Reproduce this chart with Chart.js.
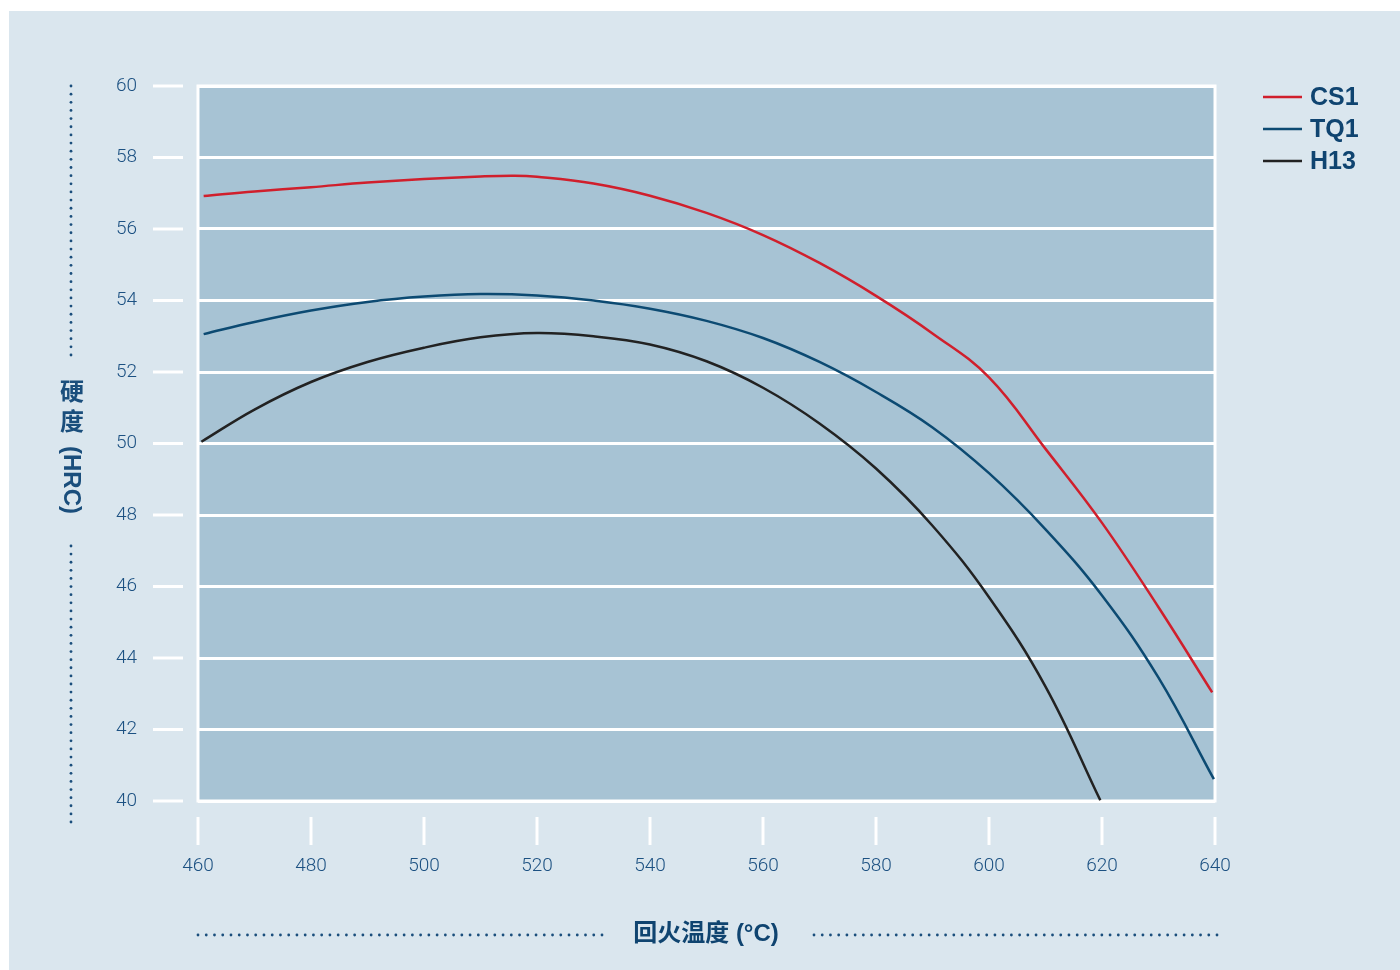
<!DOCTYPE html>
<html>
<head>
<meta charset="utf-8">
<script src="https://cdn.jsdelivr.net/npm/chart.js@4.4.1/dist/chart.umd.min.js"></script>
<style>
  body { margin: 0; background: #ffffff; }
  canvas { display: block; }
</style>
</head>
<body>
<canvas id="chart" width="1400" height="970"></canvas>
<script>
// temperatures (°C) and hardness (HRC)
var cs1Temp = [461, 470, 480, 490, 500, 510, 516, 520, 530, 540, 550, 560, 570, 580, 590, 600, 610, 620, 630, 639.5];
var cs1Hrc  = [56.92, 57.05, 57.17, 57.3, 57.4, 57.47, 57.49, 57.46, 57.27, 56.93, 56.45, 55.83, 55.05, 54.13, 53.08, 51.85, 49.85, 47.78, 45.42, 43.04];

var tq1Temp = [461, 470, 480, 490, 500, 510, 520, 530, 540, 550, 560, 570, 580, 590, 600, 610, 620, 630, 639.8];
var tq1Hrc  = [53.06, 53.4, 53.72, 53.96, 54.11, 54.18, 54.14, 54.0, 53.77, 53.43, 52.95, 52.28, 51.44, 50.45, 49.17, 47.6, 45.75, 43.45, 40.61];

var h13Temp = [460.6, 470, 480, 490, 500, 510, 520, 530, 540, 550, 560, 570, 580, 590, 600, 610, 619.7];
var h13Hrc  = [50.05, 50.95, 51.72, 52.28, 52.68, 52.97, 53.09, 53.0, 52.77, 52.3, 51.56, 50.56, 49.3, 47.7, 45.7, 43.2, 40.02];

var seriesNames  = ["CS1", "TQ1", "H13"];
var seriesColors = ["#d01f2c", "#0c4a72", "#222222"];

var xMin = 460, xMax = 640, xStep = 20;
var yMin = 40, yMax = 60, yStep = 2;

var xTitle = "回火温度 (°C)";
var yTitleChars = ["硬", "度"];
var yTitleUnit = "(HRC)";

var textColor = "#1c5182";
var outerBg = "#dae6ee";
var plotBg = "#a7c3d4";

function punkti(t, h)
{
    var out = [];
    for (let i = 0; i < t.length; i++) out.push({ x: t[i], y: h[i] });
    return out;
}

function pisteviiva(ctx, x1, y1, x2, y2)
{
    // dotted guide lines next to axis titles
    var len = Math.hypot(x2 - x1, y2 - y1);
    var n = Math.round(len / 8.2);
    ctx.fillStyle = "#1a4e7c";
    for (let i = 0; i <= n; i++) {
        var px = x1 + (x2 - x1) * i / n;
        var py = y1 + (y2 - y1) * i / n;
        ctx.beginPath();
        ctx.arc(px, py, 1.4, 0, Math.PI * 2);
        ctx.fill();
    }
}

var taustat = {
    id: "taustat",
    beforeDraw: function (chart) {
        var ctx = chart.ctx, a = chart.chartArea;
        ctx.save();
        ctx.fillStyle = "#ffffff";
        ctx.fillRect(0, 0, chart.width, chart.height);
        ctx.fillStyle = outerBg;
        ctx.fillRect(9, 11, chart.width - 9, chart.height - 11);
        ctx.fillStyle = plotBg;
        ctx.fillRect(a.left, a.top, a.right - a.left, a.bottom - a.top);
        ctx.restore();
    },
    beforeDatasetsDraw: function (chart) {
        var ctx = chart.ctx, a = chart.chartArea;
        var xs = chart.scales.x, ys = chart.scales.y;
        ctx.save();
        ctx.strokeStyle = "#ffffff";
        ctx.lineWidth = 3;
        ctx.strokeRect(a.left, a.top, a.right - a.left, a.bottom - a.top);
        // detached tick marks
        for (let v = yMin; v <= yMax; v += yStep) {
            var py = ys.getPixelForValue(v);
            ctx.beginPath();
            ctx.moveTo(153, py);
            ctx.lineTo(183, py);
            ctx.stroke();
        }
        for (let v = xMin; v <= xMax; v += xStep) {
            var px = xs.getPixelForValue(v);
            ctx.beginPath();
            ctx.moveTo(px, a.bottom + 16);
            ctx.lineTo(px, a.bottom + 44);
            ctx.stroke();
        }
        ctx.restore();
    },
    afterDraw: function (chart) {
        var ctx = chart.ctx, a = chart.chartArea;
        ctx.save();
        // legend
        ctx.font = 'bold 25px "Liberation Sans", Arial, sans-serif';
        ctx.textBaseline = "middle";
        ctx.textAlign = "left";
        for (let i = 0; i < chart.data.datasets.length; i++) {
            var ds = chart.data.datasets[i];
            var ly = 97 + i * 32;
            ctx.strokeStyle = ds.borderColor;
            ctx.lineWidth = 2.5;
            ctx.beginPath();
            ctx.moveTo(1263, ly);
            ctx.lineTo(1302, ly);
            ctx.stroke();
            ctx.fillStyle = "#0f4470";
            ctx.fillText(ds.label, 1310, ly + 1);
        }
        // x title
        ctx.font = 'bold 24px "Liberation Sans", "Noto Sans CJK SC", sans-serif';
        ctx.fillStyle = "#0f4470";
        ctx.textAlign = "center";
        ctx.fillText(xTitle, 706, 934);
        pisteviiva(ctx, 198, 935, 602, 935);
        pisteviiva(ctx, 814, 935, 1217, 935);
        // y title, chinese upright, unit rotated
        ctx.fillText(yTitleChars[0], 72, 393);
        ctx.fillText(yTitleChars[1], 72, 423);
        ctx.translate(72, 480);
        ctx.rotate(Math.PI / 2);
        ctx.fillText(yTitleUnit, 0, 1);
        ctx.restore();
        ctx.save();
        pisteviiva(ctx, 71, 86, 71, 355);
        pisteviiva(ctx, 71, 546, 71, 822);
        ctx.restore();
    }
};

var sarjat = [punkti(cs1Temp, cs1Hrc), punkti(tq1Temp, tq1Hrc), punkti(h13Temp, h13Hrc)];
var datasets = [];
for (let i = 0; i < sarjat.length; i++) {
    datasets.push({
        label: seriesNames[i],
        data: sarjat[i],
        borderColor: seriesColors[i],
        borderWidth: 2.5,
        pointRadius: 0,
        fill: false,
        tension: 0.4
    });
}

var tickFont = { family: "Roboto, 'Liberation Sans', sans-serif", size: 19, weight: 300 };

var kaavio = new Chart(document.getElementById("chart"), {
    type: "line",
    data: { datasets: datasets },
    plugins: [taustat],
    options: {
        responsive: false,
        animation: false,
        layout: { padding: { left: 0, top: 86, right: 185, bottom: 0 } },
        plugins: { legend: { display: false }, tooltip: { enabled: false } },
        scales: {
            x: {
                type: "linear",
                min: xMin, max: xMax,
                afterFit: function (s) { s.height = 169; },
                ticks: { stepSize: xStep, color: textColor, font: tickFont, padding: 54 },
                grid: { display: false, drawTicks: false },
                border: { display: false }
            },
            y: {
                min: yMin, max: yMax,
                afterFit: function (s) { s.width = 198; },
                ticks: { stepSize: yStep, color: textColor, font: tickFont, padding: 61 },
                grid: { color: "#ffffff", lineWidth: 3, drawTicks: false },
                border: { display: false }
            }
        }
    }
});
</script>
</body>
</html>
